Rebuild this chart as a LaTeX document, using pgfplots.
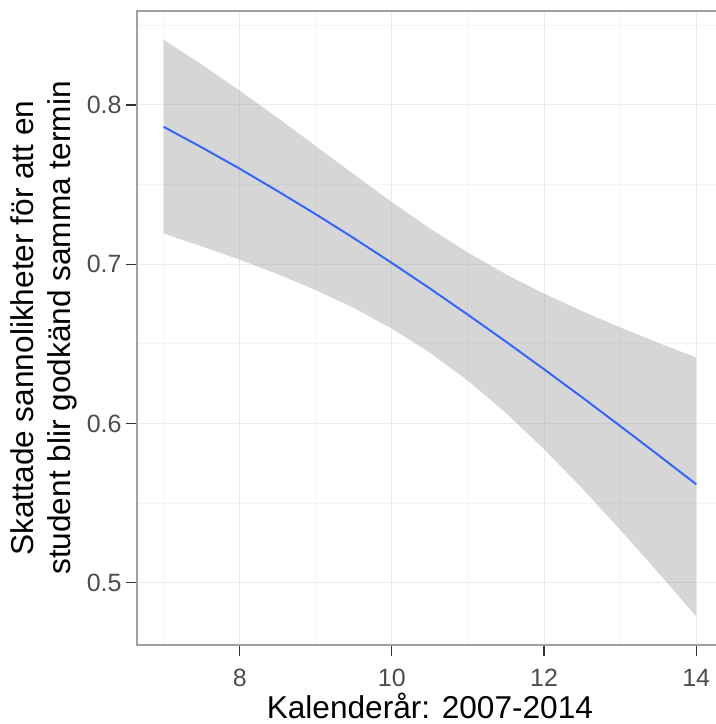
\documentclass[border=0pt]{standalone}
\usepackage{pgfplots}
\pgfplotsset{compat=1.18}
\usepackage{pgfplotstable}
\usepgfplotslibrary{fillbetween}
\usepackage{fontspec}
\setmainfont{Liberation Sans}
\definecolor{gridmaj}{HTML}{EBEBEB}
\definecolor{gridmin}{HTML}{F4F4F4}
\definecolor{border}{HTML}{A0A0A0}
\definecolor{tickc}{HTML}{333333}
\definecolor{ticklab}{HTML}{4D4D4D}
\definecolor{fitblue}{HTML}{3366FF}
\definecolor{ribbon}{HTML}{999999}
\pgfplotstableread{
x lo fit hi
7 0.7193 0.7863 0.8409
7.5 0.7113 0.7734 0.8254
8 0.7029 0.7600 0.8090
8.5 0.6938 0.7459 0.7919
9 0.6838 0.7314 0.7742
9.5 0.6726 0.7164 0.7565
10 0.6596 0.7008 0.7390
10.5 0.6445 0.6848 0.7225
11 0.6269 0.6683 0.7073
11.5 0.6066 0.6514 0.6937
12 0.5839 0.6341 0.6816
12.5 0.5594 0.6165 0.6706
13 0.5334 0.5985 0.6604
13.5 0.5065 0.5803 0.6507
14 0.4790 0.5619 0.6415
}\fitdata
\begin{document}
\begin{tikzpicture}
\begin{axis}[
  at={(0,0)}, anchor=south west,
  width=289.5pt, height=317pt, scale only axis,
  xmin=6.65, xmax=14.26, ymin=0.461, ymax=0.859,
  xtick={8,10,12,14}, ytick={0.5,0.6,0.7,0.8},
  minor xtick={7,9,11,13}, minor ytick={0.55,0.65,0.75,0.85},
  xmajorgrids, ymajorgrids, xminorgrids, yminorgrids,
  major grid style={gridmaj, line width=0.5pt},
  minor grid style={gridmin, line width=0.5pt},
  axis line style={draw=none},
  tick align=outside, xtick pos=bottom, ytick pos=left,
  major tick length=5.5pt, minor tick length=0pt,
  major tick style={tickc, line width=0.6pt},
  /pgf/number format/assume math mode=true,
  yticklabel style={/pgf/number format/fixed, /pgf/number format/precision=1, /pgf/number format/fixed zerofill,
    anchor=east, inner sep=0pt, xshift=-2pt, font=\fontsize{12.5}{12.5}\selectfont, text=ticklab},
  xticklabel style={anchor=center, inner sep=0pt, yshift=-11pt, font=\fontsize{12.5}{12.5}\selectfont, text=ticklab},
  xlabel={Kalenderår: 2007-2014},
  xlabel style={at={(axis cs:10.5,0.461)}, anchor=center, inner sep=0pt, yshift=-30.3pt, font=\fontsize{15.8}{15.8}\selectfont},
  ylabel={Skattade sannolikheter för att en\\student blir godkänd samma termin},
  ylabel style={at={(axis description cs:-0.1606,0.5)}, anchor=center, inner sep=0pt, align=center, font=\fontsize{15.8}{18.5}\selectfont},
  after end axis/.code={
    \draw[border, line width=0.7pt] (rel axis cs:1.05,1) -- (rel axis cs:0,1) -- (rel axis cs:0,0) -- (rel axis cs:1.05,0);
  },
]
\addplot[name path=hi, draw=none, forget plot] table[x=x, y=hi] {\fitdata};
\addplot[name path=lo, draw=none, forget plot] table[x=x, y=lo] {\fitdata};
\addplot[ribbon, fill opacity=0.4, draw=none] fill between[of=hi and lo];
\addplot[fitblue, line width=1pt] table[x=x, y=fit] {\fitdata};
\end{axis}
\pgfresetboundingbox
\useasboundingbox (-68.5pt,-39.5pt) rectangle (289.5pt,322.5pt);
\end{tikzpicture}
\end{document}
